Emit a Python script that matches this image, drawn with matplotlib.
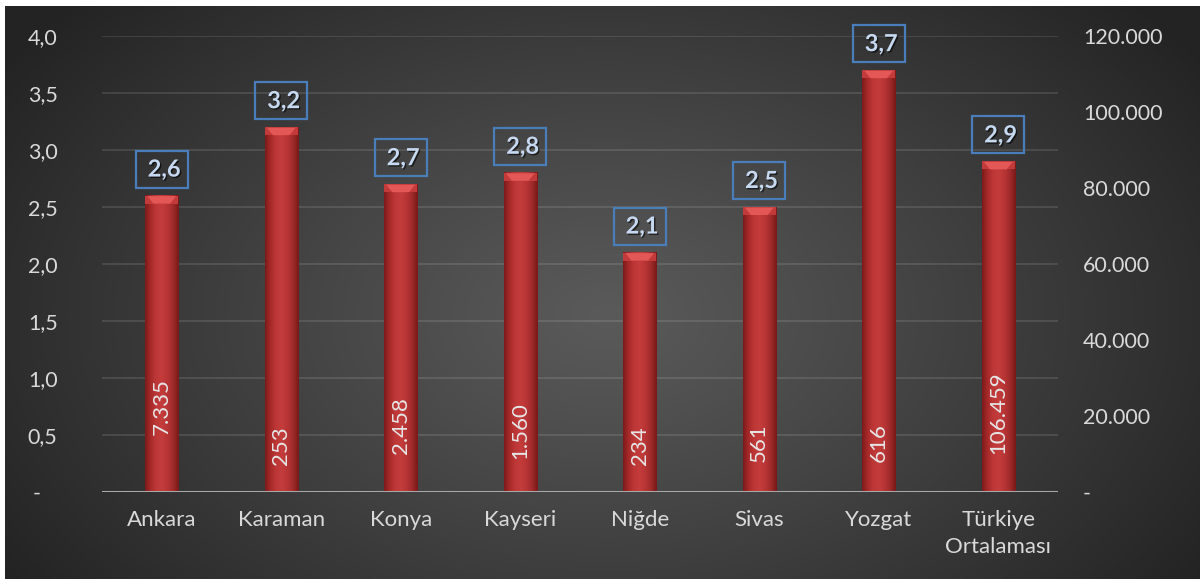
import numpy as np
import matplotlib
matplotlib.use("Agg")
import matplotlib.pyplot as plt
from matplotlib.colors import LinearSegmentedColormap, to_rgb
from matplotlib.patches import Rectangle, Polygon
import matplotlib.patheffects as pe

# ---------------- data ----------------
categories = ["Ankara", "Karaman", "Konya", "Kayseri", "Niğde", "Sivas", "Yozgat", "Türkiye\nOrtalaması"]
ratios = [2.6, 3.2, 2.7, 2.8, 2.1, 2.5, 3.7, 2.9]
ratio_labels = ["2,6", "3,2", "2,7", "2,8", "2,1", "2,5", "3,7", "2,9"]
counts = [7335, 253, 2458, 1560, 234, 561, 616, 106459]
count_labels = ["7.335", "253", "2.458", "1.560", "234", "561", "616", "106.459"]
left_ticks = [0, 0.5, 1.0, 1.5, 2.0, 2.5, 3.0, 3.5, 4.0]
left_tick_labels = ["-   ", "0,5", "1,0", "1,5", "2,0", "2,5", "3,0", "3,5", "4,0"]
right_ticks = [0, 20000, 40000, 60000, 80000, 100000, 120000]
right_tick_labels = ["-", "20.000", "40.000", "60.000", "80.000", "100.000", "120.000"]

# label anchor heights (layout only, in left-axis units)
count_label_y = [0.75, 0.41, 0.58, 0.54, 0.41, 0.43, 0.43, 0.70]

plt.rcParams['font.family'] = ['Lato', 'DejaVu Sans']

W, H = 1200, 579
fig = plt.figure(figsize=(W / 100, H / 100), dpi=100, facecolor='white')

# ---------------- background radial gradient ----------------
bw_px, bh_px = W - 5, H - 6
bg = fig.add_axes([5 / W, 0, bw_px / W, bh_px / H])
yy, xx = np.mgrid[0:bh_px, 0:bw_px]
cx, cy = 600, 310
r = np.sqrt(((xx - cx) / 720.0) ** 2 + ((yy - cy) / 470.0) ** 2)
r = np.clip(r, 0, 1)
c_in = np.array(to_rgb('#5a5a5a'))
c_out = np.array(to_rgb('#232323'))
t = r[..., None] ** 1.1
img = c_in * (1 - t) + c_out * t
bg.imshow(img, aspect='auto', interpolation='bilinear')
bg.axis('off')

# ---------------- main axes ----------------
ax = fig.add_axes([102 / W, 87 / H, 956 / W, 456 / H])
ax.set_facecolor('none')
for s in ax.spines.values():
    s.set_visible(False)

for yv in left_ticks[1:]:
    ax.axhline(yv, color='white', alpha=0.13, lw=1.2, zorder=1)
ax.axhline(0, color='#a8a8a8', lw=2.2, zorder=6)

bar_w = 0.28
bar_cmap = LinearSegmentedColormap.from_list(
    'bar', ['#7e1a1a', '#a82a2a', '#bf3838', '#c43c3c', '#b83535', '#a02a2a', '#7a1818'])
grad = np.linspace(0, 1, 64)[None, :]
bevel = 0.07

x = np.arange(len(categories))
for i, v in enumerate(ratios):
    x0, x1 = x[i] - bar_w / 2, x[i] + bar_w / 2
    ax.imshow(grad, extent=[x0, x1, 0, v], aspect='auto', cmap=bar_cmap,
              zorder=3, interpolation='bilinear')
    # top bevel
    ax.add_patch(Polygon([(x0, v - bevel), (x0, v), (x1, v), (x1, v - bevel)],
                         closed=True, fc='#c23a3a', ec='none', zorder=4))
    ax.add_patch(Polygon([(x0 + 0.02, v - 0.005), (x1 - 0.02, v - 0.005),
                          (x1 - 0.07, v - bevel), (x0 + 0.07, v - bevel)],
                         closed=True, fc='#e35757', ec='none', zorder=4))
    # boxed ratio label
    bw_box, bh_box = 0.435, 0.325
    yb = v + 0.07
    ax.add_patch(Rectangle((x[i] - bw_box / 2, yb), bw_box, bh_box, fill=False,
                           ec='#4a7ebb', lw=1.6, zorder=5, clip_on=False))
    ax.text(x[i] + 0.02, yb + bh_box / 2, ratio_labels[i], ha='center', va='center',
            fontsize=17, fontweight='bold', color='#c6d9f1', zorder=6, clip_on=False,
            path_effects=[pe.withSimplePatchShadow(offset=(1, -1), shadow_rgbFace='black', alpha=0.6)])
    # rotated count label
    ax.text(x[i], count_label_y[i], count_labels[i], rotation=90, ha='center', va='center',
            fontsize=16, color='#e6e6e6', zorder=6)

ax.set_xlim(-0.5, len(categories) - 0.5)
ax.set_ylim(0, 4.0)
ax.set_yticks(left_ticks)
ax.set_yticklabels(left_tick_labels)
ax.set_xticks(x)
ax.set_xticklabels(categories, linespacing=1.45)
ax.tick_params(axis='y', length=0, pad=32, labelsize=15.5, labelcolor='#d9d9d9')
ax.tick_params(axis='x', length=0, pad=13, labelsize=16, labelcolor='#d9d9d9')
for lbl in ax.get_xticklabels():
    lbl.set_verticalalignment('top')

ax2 = ax.twinx()
ax2.set_ylim(0, 120000)
ax2.set_yticks(right_ticks)
ax2.set_yticklabels(right_tick_labels)
ax2.tick_params(axis='y', length=0, pad=18, labelsize=15.5, labelcolor='#d9d9d9')
for s in ax2.spines.values():
    s.set_visible(False)
ax2.set_facecolor('none')

fig.savefig('out.png', dpi=100, facecolor='white')
